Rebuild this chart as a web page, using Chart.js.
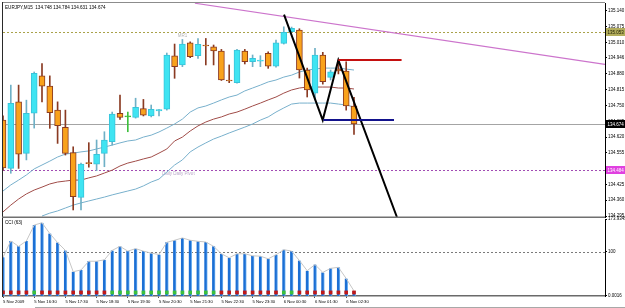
<!DOCTYPE html>
<html><head><meta charset="utf-8">
<script src="https://cdn.jsdelivr.net/npm/chart.js@4.4.1/dist/chart.umd.min.js"></script>
<style>
html,body{margin:0;padding:0;background:#fff;overflow:hidden;}
#wrap{position:relative;width:625px;height:308px;background:#fff;}
#main{position:absolute;left:0;top:0;width:625px;height:218px;}
#cci{position:absolute;left:0;top:212px;width:625px;height:96px;}
</style></head><body>
<div id="wrap">
<canvas id="main" width="625" height="218"></canvas>
<canvas id="cci" width="625" height="96"></canvas>
</div>
<script>
// ---------------- data ----------------
const SYMBOL = 'EURJPY,M15';
const OPEN  = [134.690,134.491,134.765,134.553,134.718,134.872,134.830,134.731,134.660,134.556,
               134.372,134.513,134.509,134.553,134.601,134.718,134.703,134.701,134.737,134.707,
               134.728,134.735,134.954,134.917,135.008,134.955,134.997,134.992,134.974,134.853,
               134.844,134.974,134.930,134.933,134.965,134.912,135.006,135.054,135.061,134.896,
               134.801,134.958,134.866,134.900,134.892,134.748];
const HIGH  = [134.707,134.834,134.834,134.772,134.888,134.923,134.872,134.765,134.731,134.580,
               134.513,134.597,134.608,134.642,134.723,134.793,134.723,134.780,134.775,134.752,
               134.733,134.966,135.003,135.022,135.012,135.026,135.026,134.999,134.981,134.917,
               134.981,134.981,134.958,134.955,134.971,135.019,135.074,135.073,135.066,134.904,
               134.985,134.969,134.896,134.937,134.930,134.784];
const LOW   = [134.484,134.471,134.491,134.526,134.657,134.765,134.656,134.594,134.546,134.320,
               134.320,134.496,134.482,134.498,134.587,134.693,134.642,134.698,134.707,134.703,
               134.707,134.731,134.862,134.910,134.947,134.944,134.917,134.917,134.853,134.844,
               134.842,134.921,134.910,134.910,134.903,134.908,135.003,135.052,134.863,134.785,
               134.773,134.838,134.855,134.880,134.731,134.631];
const CLOSE = [134.493,134.759,134.550,134.718,134.882,134.830,134.720,134.667,134.553,134.375,
               134.509,134.511,134.549,134.608,134.715,134.701,134.703,134.742,134.710,134.734,
               134.733,134.958,134.910,135.003,134.951,135.002,134.995,134.975,134.855,134.851,
               134.978,134.930,134.944,134.935,134.912,135.008,135.051,135.068,134.896,134.814,
               134.958,134.848,134.889,134.892,134.748,134.674];
const MA_UPPER = [134.398,134.423,134.443,134.464,134.489,134.505,134.521,134.538,134.550,134.554,
                  134.559,134.563,134.571,134.579,134.587,134.596,134.604,134.608,134.620,134.628,
                  134.641,134.657,134.674,134.694,134.723,134.740,134.748,134.760,134.773,134.785,
                  134.793,134.810,134.822,134.834,134.847,134.855,134.867,134.875,134.888,134.896,
                  134.900,134.904,134.904,134.904,134.900,134.896];
const MA_MID   = [134.312,134.340,134.365,134.386,134.402,134.414,134.427,134.435,134.439,134.443,
                  134.443,134.452,134.460,134.472,134.484,134.501,134.513,134.521,134.530,134.538,
                  134.554,134.571,134.604,134.620,134.645,134.666,134.682,134.694,134.703,134.715,
                  134.723,134.735,134.748,134.760,134.773,134.785,134.801,134.814,134.822,134.826,
                  134.826,134.826,134.826,134.822,134.822,134.818];
const MA_LOWER = [null,null,null,null,null,134.295,134.307,134.316,134.328,134.340,
                  134.349,134.357,134.365,134.373,134.382,134.390,134.398,134.406,134.419,134.435,
                  134.447,134.476,134.505,134.526,134.559,134.579,134.596,134.612,134.624,134.637,
                  134.649,134.661,134.674,134.690,134.703,134.723,134.740,134.756,134.760,134.760,
                  134.760,134.760,134.760,134.756,134.752,134.744];
const CCI = [87.6,124.3,112.1,124.3,160.2,165.4,141.2,120.6,103.0,54.9,
             58.8,78.5,78.5,81.7,103.0,112.1,101.4,106.9,101.4,96.8,
             93.8,121.3,125.9,131.1,125.9,123.6,122.0,112.1,95.4,86.3,
             95.4,95.4,90.8,89.9,84.0,93.1,104.6,101.4,80.1,57.2,
             70.9,53.3,62.5,64.8,39.6,11.4];
const CCI_SIGNAL = [-1,-1,-1,-1,1,-1,-1,-1,-1,-1,-1,-1,-1,-1,
                    1,1,1,1,1,1,1,1,1,1,1,1,1,1,
                    -1,-1,-1,-1,-1,-1,-1,-1,1,1,
                    -1,-1,-1,-1,-1,-1,-1,-1];
const CCI_SIGNAL_BAND = [4.5, 11.5];
const CCI_PERIOD = 63;
const CCI_LEVEL = 100;
const CCI_TICKS = [173.9345, 100, 0.0016];
const CCI_TICK_TEXT = ['173.9345', '100', '0.0016'];
const TIME_LABEL_BARS = [0,4,8,12,16,20,24,28,32,36,40,44];
const TIME_LABELS = ['5 Nov 2009','5 Nov 16:30','5 Nov 17:30','5 Nov 18:30','5 Nov 19:30','5 Nov 20:30',
                     '5 Nov 21:30','5 Nov 22:30','5 Nov 23:30','6 Nov 00:30','6 Nov 01:30','6 Nov 02:30'];
const PRICE_TICKS = [135.140,135.075,135.010,134.946,134.880,134.815,134.750,134.685,134.620,
                     134.555,134.490,134.425,134.360,134.295];
const PIVOT_MR1 = 135.053;
const DAILY_PIVOT = 134.484;
const TREND_X = [24.6, 77.18];
const TREND_Y = [135.171, 134.919];
const ZIGZAG_X = [36.03, 40.99, 42.99, 50.5];
const ZIGZAG_Y = [135.124, 134.690, 134.937, 134.291];
const RED_LEVEL_X = [42.99, 51.1];
const RED_LEVEL_Y = 134.937;
const BLUE_LEVEL_X = [41.06, 50.13];
const BLUE_LEVEL_Y = 134.690;
const X_MIN = 0, X_MAX = 77.18;
const Y_MIN = 134.291, Y_MAX = 135.172;

// ---------------- styles ----------------
const FONT = "'Liberation Sans', Arial, sans-serif";
const BULL_FILL = '#3fe4f2', BULL_LINE = '#6fb0c6';
const BEAR_FILL = '#f9a21c', BEAR_LINE = '#8a3a22';
const DOJI_COL = '#3cbf3c';
Chart.defaults.font.family = FONT;
Chart.defaults.font.size = 4.5;
Chart.defaults.color = '#000';

const N = OPEN.length;
const kind = OPEN.map((o, i) => CLOSE[i] > o ? 1 : (CLOSE[i] < o ? -1 : 0));
const bodyFill = kind.map(k => k > 0 ? BULL_FILL : k < 0 ? BEAR_FILL : DOJI_COL);
const bodyLine = kind.map(k => k > 0 ? '#38c4da' : k < 0 ? BEAR_LINE : DOJI_COL);
const wickCol = kind.map(k => k > 0 ? BULL_LINE : k < 0 ? BEAR_LINE : DOJI_COL);
const pts = arr => arr.map((v, i) => ({x: i, y: v}));
const pairs = (xs, ys) => xs.map((x, i) => ({x, y: Array.isArray(ys) ? ys[i] : ys}));

function hline(ctx, a, y, color, dash, w) {
  ctx.save();
  ctx.strokeStyle = color; ctx.lineWidth = w; ctx.setLineDash(dash);
  ctx.beginPath(); ctx.moveTo(a.left, Math.round(y) + 0.5); ctx.lineTo(a.right, Math.round(y) + 0.5); ctx.stroke();
  ctx.restore();
}
function axisBox(ctx, y, text, fill, color) {
  ctx.save();
  ctx.fillStyle = fill; ctx.fillRect(606, Math.round(y) - 4, 19, 8);
  ctx.fillStyle = color; ctx.font = '4.5px ' + FONT; ctx.textBaseline = 'middle'; ctx.textAlign = 'left';
  ctx.fillText(text, 607.5, Math.round(y) + 0.5);
  ctx.restore();
}

const mainDecor = {
  id: 'mainDecor',
  beforeDatasetsDraw(chart) {
    const {ctx, chartArea: a, scales: {x, y}} = chart;
    hline(ctx, a, y.getPixelForValue(CLOSE[N - 1]), '#a4a4a4', [], 1);
    hline(ctx, a, y.getPixelForValue(PIVOT_MR1), '#a9a24a', [2, 2], 1);
    hline(ctx, a, y.getPixelForValue(DAILY_PIVOT), '#a24cb4', [2, 2], 1);
    ctx.save();
    ctx.font = '4.5px ' + FONT; ctx.textBaseline = 'middle'; ctx.textAlign = 'left';
    ctx.fillStyle = '#b4b4b4';
    ctx.fillText('MR1', x.getPixelForValue(22.4), y.getPixelForValue(PIVOT_MR1) + 4);
    ctx.fillStyle = '#b8a8c8';
    ctx.fillText('Daily Daily Pivot', x.getPixelForValue(20.4), y.getPixelForValue(DAILY_PIVOT) + 4);
    ctx.restore();
  },
  afterDraw(chart) {
    const {ctx, chartArea: a, scales: {y}} = chart;
    ctx.save();
    ctx.fillStyle = '#8c8c8c'; ctx.fillRect(2, 2, a.right - 2, 1);
    ctx.fillStyle = '#2a2a2a'; ctx.fillRect(2, 2, 1, a.bottom - 2);
    ctx.fillStyle = '#707070'; ctx.fillRect(2, a.bottom - 0.5, a.right - 2, 2);
    ctx.fillStyle = '#000'; ctx.font = '4.6px ' + FONT; ctx.textBaseline = 'middle'; ctx.textAlign = 'left';
    const L = N - 1;
    ctx.fillText(SYMBOL + '  ' + OPEN[L].toFixed(3) + ' ' + HIGH[L].toFixed(3) + ' ' +
                 LOW[L].toFixed(3) + ' ' + CLOSE[L].toFixed(3), 5, 7.5);
    ctx.restore();
    axisBox(ctx, y.getPixelForValue(PIVOT_MR1), PIVOT_MR1.toFixed(3), '#b3ad5c', '#1a1a00');
    axisBox(ctx, y.getPixelForValue(CLOSE[L]), CLOSE[L].toFixed(3), '#000', '#fff');
    axisBox(ctx, y.getPixelForValue(DAILY_PIVOT), DAILY_PIVOT.toFixed(3), '#e040e0', '#fff');
  }
};

new Chart(document.getElementById('main'), {
  type: 'bar',
  data: {
    datasets: [
      {type: 'line', data: pairs(BLUE_LEVEL_X, BLUE_LEVEL_Y), borderColor: '#12128c', borderWidth: 2,
       pointRadius: 0, order: 0},
      {type: 'line', data: pairs(RED_LEVEL_X, RED_LEVEL_Y), borderColor: '#c41010', borderWidth: 2,
       pointRadius: 0, order: 0},
      {type: 'line', data: pairs(ZIGZAG_X, ZIGZAG_Y), borderColor: '#000', borderWidth: 2,
       pointRadius: 0, order: 1},
      {data: OPEN.map((o, i) => ({x: i, y: [o, CLOSE[i]]})), backgroundColor: bodyFill,
       borderColor: bodyLine, borderWidth: 1, borderSkipped: false, grouped: false,
       barThickness: 6, maxBarThickness: 6, minBarLength: 1, order: 2},
      {data: OPEN.map((o, i) => ({x: i, y: [LOW[i], HIGH[i]]})), backgroundColor: wickCol,
       borderWidth: 0, grouped: false, barThickness: 1, maxBarThickness: 1, order: 3},
      {type: 'line', data: pairs(TREND_X, TREND_Y), borderColor: '#cc74cc', borderWidth: 1.2,
       pointRadius: 0, order: 4},
      {type: 'line', data: pts(MA_UPPER), borderColor: '#78b0cc', borderWidth: 1, pointRadius: 0, order: 5},
      {type: 'line', data: pts(MA_MID), borderColor: '#a04c48', borderWidth: 1, pointRadius: 0, order: 5},
      {type: 'line', data: pts(MA_LOWER), borderColor: '#78b0cc', borderWidth: 1, pointRadius: 0, order: 5}
    ]
  },
  options: {
    responsive: false, animation: false, events: [],
    layout: {padding: {left: 3, top: 3, right: 0, bottom: 1}},
    plugins: {legend: {display: false}, tooltip: {enabled: false}},
    scales: {
      x: {type: 'linear', min: X_MIN, max: X_MAX, display: false, offset: false, grid: {offset: false}},
      y: {position: 'right', min: Y_MIN, max: Y_MAX,
          afterBuildTicks: s => { s.ticks = PRICE_TICKS.map(v => ({value: v})); },
          afterFit: s => { s.width = 20; s.paddingTop = 0; s.paddingBottom = 0; },
          ticks: {autoSkip: false, padding: 1, font: {size: 4.5}, color: '#000',
                  callback: v => Number(v).toFixed(3)},
          grid: {drawOnChartArea: false, drawTicks: true, tickLength: 2, color: '#000'},
          border: {display: true, color: '#000', width: 1}}
    }
  },
  plugins: [mainDecor]
});

// ---------------- CCI panel ----------------
const cciDecor = {
  id: 'cciDecor',
  beforeDatasetsDraw(chart) {
    const {ctx, chartArea: a, scales: {y}} = chart;
    hline(ctx, a, y.getPixelForValue(CCI_LEVEL), '#7a7a7a', [2, 2], 1);
  },
  afterDraw(chart) {
    const {ctx, chartArea: a} = chart;
    ctx.save();
    ctx.fillStyle = '#2a2a2a'; ctx.fillRect(2, a.top - 1, 1, a.bottom - a.top + 2);
    ctx.fillStyle = '#a8a8a8'; ctx.fillRect(35, 95, 590, 1);
    ctx.fillStyle = '#000'; ctx.font = '4.6px ' + FONT; ctx.textBaseline = 'middle'; ctx.textAlign = 'left';
    ctx.fillText('CCI (' + CCI_PERIOD + ')', 5, a.top + 4);
    ctx.restore();
  }
};

new Chart(document.getElementById('cci'), {
  type: 'bar',
  data: {
    datasets: [
      {data: CCI.map((v, i) => ({x: i, y: CCI_SIGNAL_BAND})),
       backgroundColor: CCI_SIGNAL.map(s => s > 0 ? '#3cc03c' : '#c01818'),
       grouped: false, barThickness: 3, maxBarThickness: 3, order: 0},
      {type: 'line', data: pts(CCI), borderColor: '#c6c6c6', borderWidth: 1, pointRadius: 0, order: 1},
      {data: pts(CCI), backgroundColor: '#1c6fd4', borderColor: '#6aaef0',
       borderWidth: {left: 0, top: 0, bottom: 0, right: 1}, borderSkipped: false,
       grouped: false, barThickness: 3, maxBarThickness: 3, order: 2}
    ]
  },
  options: {
    responsive: false, animation: false, events: [],
    layout: {padding: {left: 3, top: 7, right: 0, bottom: 0}},
    plugins: {legend: {display: false}, tooltip: {enabled: false}},
    scales: {
      x: {type: 'linear', min: X_MIN, max: X_MAX, offset: false,
          afterBuildTicks: s => { s.ticks = TIME_LABEL_BARS.map(v => ({value: v})); },
          afterFit: s => { s.height = 12; s.paddingLeft = 0; s.paddingRight = 0; },
          ticks: {autoSkip: false, maxRotation: 0, align: 'start', padding: 1.5, font: {size: 4.2}, color: '#000',
                  callback: (v, i) => TIME_LABELS[i]},
          grid: {offset: false, drawOnChartArea: false, drawTicks: true, tickLength: 2, color: '#555'},
          border: {display: true, color: '#6a6a6a', width: 1.5}},
      y: {position: 'right', min: 0, max: CCI_TICKS[0],
          afterBuildTicks: s => { s.ticks = CCI_TICKS.map(v => ({value: v})); },
          afterFit: s => { s.width = 20; s.paddingTop = 0; s.paddingBottom = 0; },
          ticks: {autoSkip: false, padding: 1, font: {size: 4.5}, color: '#000',
                  callback: (v, i) => CCI_TICK_TEXT[i]},
          grid: {drawOnChartArea: false, drawTicks: true, tickLength: 2, color: '#000'},
          border: {display: true, color: '#000', width: 1}}
    }
  },
  plugins: [cciDecor]
});
</script>
</body></html>
